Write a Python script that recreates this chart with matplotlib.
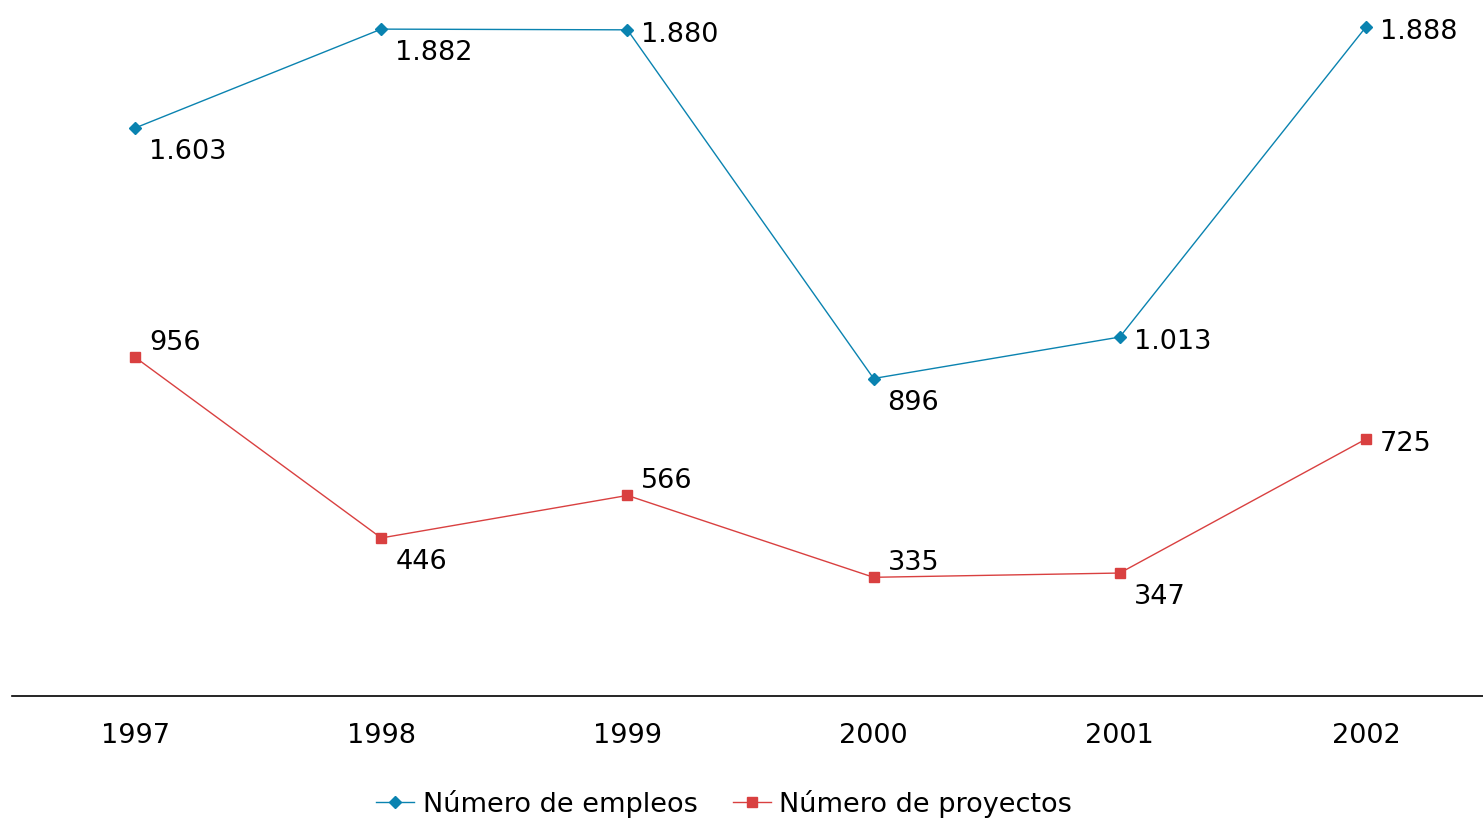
import matplotlib
matplotlib.use('Agg')
import matplotlib.pyplot as plt

years = ['1997', '1998', '1999', '2000', '2001', '2002']
empleos = [1603, 1882, 1880, 896, 1013, 1888]
proyectos = [956, 446, 566, 335, 347, 725]
empleos_labels = ['1.603', '1.882', '1.880', '896', '1.013', '1.888']
proyectos_labels = ['956', '446', '566', '335', '347', '725']

# where each value label sits relative to its point
empleos_pos = ['below', 'below', 'right', 'below', 'right', 'right']
proyectos_pos = ['above', 'below', 'above', 'above', 'below', 'right']

BLUE = '#0a83b0'
RED = '#d94040'
FS = 19.5
DY = {'below': -20, 'right': -1, 'above': 18}

plt.rcParams['font.family'] = ['DejaVu Sans']

fig = plt.figure(figsize=(14.83, 8.29), dpi=100)
ax = fig.add_axes([12 / 1483, 132 / 829, 1477 / 1483, 697 / 829])
xs = range(len(years))

ax.plot(xs, empleos, color=BLUE, lw=1.0, marker='D', markersize=6,
        label='Número de empleos')
ax.plot(xs, proyectos, color=RED, lw=1.0, marker='s', markersize=7,
        label='Número de proyectos')

for x, v, t, p in zip(xs, empleos, empleos_labels, empleos_pos):
    ax.annotate(t, (x, v), xytext=(14, DY[p]), textcoords='offset pixels',
                ha='left', va='center_baseline', fontsize=FS)
for x, v, t, p in zip(xs, proyectos, proyectos_labels, proyectos_pos):
    ax.annotate(t, (x, v), xytext=(14, DY[p]), textcoords='offset pixels',
                ha='left', va='center_baseline', fontsize=FS)

ax.set_xlim(-0.5, 5.5)
ax.set_ylim(0, 1967)
ax.set_xticks(list(xs))
ax.set_xticklabels(years, fontsize=FS)
ax.tick_params(axis='x', length=0, pad=19)
ax.set_yticks([])
for s in ['left', 'right', 'top']:
    ax.spines[s].set_visible(False)
ax.spines['bottom'].set_linewidth(1.2)
ax.patch.set_visible(False)

fig.legend(loc='center', bbox_to_anchor=(724 / 1483, 1 - 804 / 829),
           ncol=2, frameon=False, fontsize=FS, handlelength=1.4,
           handletextpad=0.3, columnspacing=1.3)

fig.savefig('out.png', dpi=100)
